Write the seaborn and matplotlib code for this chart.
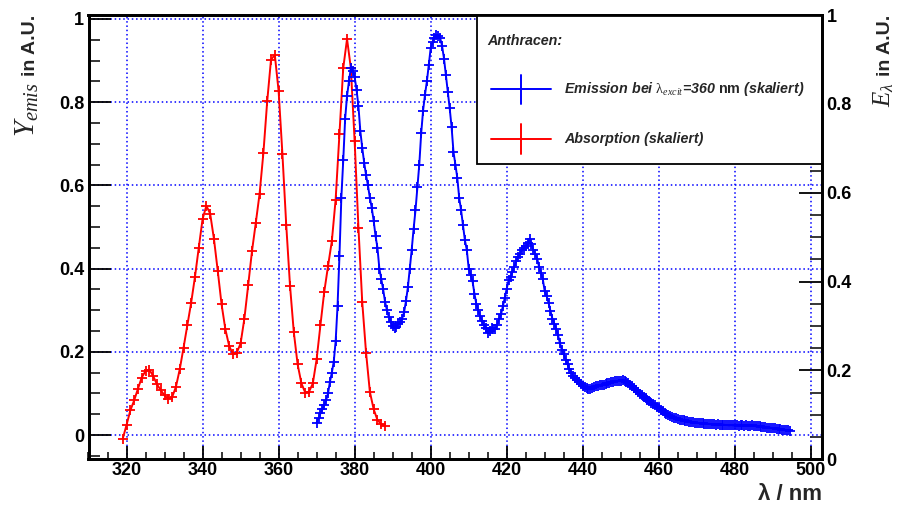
import numpy as np
import pandas as pd
import matplotlib
matplotlib.use("Agg")
import matplotlib.pyplot as plt
from matplotlib.ticker import MultipleLocator
from matplotlib.patches import Rectangle
from matplotlib.lines import Line2D
import seaborn as sns

# ---------------------------------------------------------------- data
# Absorption spectrum (scaled), 1 nm steps
abs_wavelength = np.arange(319, 389)
abs_values = [
    -0.009, 0.024, 0.059, 0.083, 0.111, 0.138, 0.154, 0.157, 0.142, 0.122,
    0.108, 0.095, 0.087, 0.091, 0.116, 0.158, 0.210, 0.264, 0.318, 0.380,
    0.450, 0.519, 0.551, 0.532, 0.471, 0.394, 0.314, 0.254, 0.214, 0.194,
    0.198, 0.220, 0.280, 0.360, 0.442, 0.510, 0.580, 0.678, 0.802, 0.902,
    0.914, 0.827, 0.676, 0.506, 0.359, 0.247, 0.170, 0.124, 0.102, 0.104,
    0.124, 0.182, 0.264, 0.344, 0.406, 0.466, 0.566, 0.723, 0.882, 0.952,
    0.882, 0.706, 0.498, 0.319, 0.198, 0.104, 0.062, 0.036, 0.026, 0.022,
]

# Emission spectrum (excitation at 360 nm, scaled), 0.5 nm steps
em_wavelength = np.arange(370.0, 495.0, 0.5)
em_values = [
    0.030, 0.040, 0.052, 0.062, 0.072, 0.084, 0.100, 0.128, 0.150, 0.176,
    0.225, 0.310, 0.430, 0.570, 0.660, 0.760, 0.815, 0.850, 0.882, 0.876,
    0.860, 0.830, 0.790, 0.730, 0.690, 0.655, 0.625, 0.600, 0.570, 0.546,
    0.515, 0.478, 0.450, 0.400, 0.375, 0.350, 0.320, 0.300, 0.284, 0.272,
    0.262, 0.258, 0.260, 0.266, 0.272, 0.280, 0.295, 0.322, 0.355, 0.400,
    0.445, 0.495, 0.540, 0.595, 0.650, 0.725, 0.780, 0.818, 0.850, 0.890,
    0.930, 0.945, 0.955, 0.962, 0.960, 0.954, 0.935, 0.905, 0.865, 0.825,
    0.785, 0.740, 0.680, 0.650, 0.618, 0.570, 0.540, 0.505, 0.468, 0.445,
    0.400, 0.385, 0.370, 0.340, 0.315, 0.300, 0.285, 0.274, 0.265, 0.258,
    0.245, 0.250, 0.258, 0.256, 0.254, 0.265, 0.280, 0.290, 0.310, 0.330,
    0.352, 0.372, 0.380, 0.392, 0.405, 0.418, 0.428, 0.436, 0.444, 0.450,
    0.455, 0.462, 0.472, 0.458, 0.444, 0.435, 0.424, 0.405, 0.390, 0.374,
    0.345, 0.334, 0.318, 0.298, 0.280, 0.268, 0.255, 0.240, 0.220, 0.205,
    0.195, 0.180, 0.170, 0.158, 0.150, 0.142, 0.136, 0.132, 0.128, 0.122,
    0.118, 0.115, 0.112, 0.110, 0.110, 0.112, 0.115, 0.117, 0.118, 0.120,
    0.120, 0.121, 0.123, 0.125, 0.126, 0.127, 0.128, 0.130, 0.130, 0.131,
    0.130, 0.132, 0.129, 0.127, 0.125, 0.121, 0.117, 0.113, 0.108, 0.104,
    0.099, 0.095, 0.091, 0.088, 0.084, 0.081, 0.077, 0.074, 0.071, 0.067,
    0.064, 0.060, 0.057, 0.054, 0.050, 0.048, 0.046, 0.043, 0.041, 0.040,
    0.039, 0.037, 0.036, 0.035, 0.034, 0.034, 0.032, 0.032, 0.031, 0.030,
    0.029, 0.029, 0.028, 0.028, 0.027, 0.027, 0.027, 0.026, 0.026, 0.026,
    0.025, 0.026, 0.025, 0.024, 0.025, 0.024, 0.024, 0.023, 0.024, 0.023,
    0.023, 0.024, 0.022, 0.023, 0.023, 0.022, 0.023, 0.022, 0.022, 0.023,
    0.022, 0.021, 0.022, 0.021, 0.020, 0.020, 0.019, 0.018, 0.018, 0.017,
    0.016, 0.016, 0.015, 0.014, 0.014, 0.013, 0.012, 0.011, 0.011, 0.010,
]

x_ticks = [320, 340, 360, 380, 400, 420, 440, 460, 480, 500]
x_tick_labels = [str(v) for v in x_ticks]
y_ticks = [0.0, 0.2, 0.4, 0.6, 0.8, 1.0]
y_tick_labels = ["0", "0.2", "0.4", "0.6", "0.8", "1"]

legend_title = "Anthracen:"
em_label = r"Emission bei $\mathrm{\lambda}_{\mathit{excit}}$=360 $\mathbf{nm}$ (skaliert)"
abs_label = "Absorption (skaliert)"

BLUE = (0.0, 0.0, 1.0)
RED = (1.0, 0.0, 0.0)

# ---------------------------------------------------------------- style
sns.set_style("white")
plt.rcParams["font.family"] = ["Liberation Sans", "DejaVu Sans"]
plt.rcParams["font.weight"] = "bold"
plt.rcParams["mathtext.fontset"] = "custom"
plt.rcParams["mathtext.rm"] = "Liberation Serif:normal"
plt.rcParams["mathtext.it"] = "Liberation Serif:italic:normal"
plt.rcParams["mathtext.bf"] = "Liberation Sans:bold"

W_PX, H_PX = 899, 507
fig = plt.figure(figsize=(W_PX / 100, H_PX / 100), dpi=100)
fig.patch.set_facecolor("white")

# frame in pixels: left 88.5, right 822.3, top 15, bottom 459.3
ax = fig.add_axes([88.5 / W_PX, 1 - 459.3 / H_PX, 733.8 / W_PX, 444.3 / H_PX])
ax.set_facecolor("white")

abs_df = pd.DataFrame({"wavelength": abs_wavelength, "value": abs_values})
em_df = pd.DataFrame({"wavelength": em_wavelength, "value": em_values})

mark_kw = dict(marker="+", markersize=7.8, markeredgewidth=1.3, linewidth=1.4,
               estimator=None, legend=False)
sns.lineplot(data=abs_df, x="wavelength", y="value", ax=ax, color=RED,
             markeredgecolor=RED, zorder=3, **mark_kw)
sns.lineplot(data=em_df, x="wavelength", y="value", ax=ax, color=BLUE,
             markeredgecolor=BLUE, zorder=4, **mark_kw)

ax.set_xlim(310, 503)
ax.set_ylim(-0.0584, 1.0096)

ax.set_xticks(x_ticks, labels=x_tick_labels)
ax.set_yticks(y_ticks, labels=y_tick_labels)
ax.xaxis.set_minor_locator(MultipleLocator(5))
ax.yaxis.set_minor_locator(MultipleLocator(0.05))

ax.grid(True, which="major", color=BLUE, linestyle=(0, (1, 1.8)), linewidth=1.1)
ax.set_axisbelow(True)

for s in ax.spines.values():
    s.set_visible(True)
    s.set_color("black")
    s.set_linewidth(2.0)

TICK_FS = 13
ax.tick_params(axis="y", which="major", direction="in", length=15.8, width=1.3,
               left=True, right=False, labelsize=TICK_FS, pad=3, colors="black")
ax.tick_params(axis="y", which="minor", direction="in", length=7.9, width=1.3,
               left=True, right=False)
ax.tick_params(axis="x", which="major", direction="in", length=9.4, width=1.3,
               bottom=True, top=False, labelsize=TICK_FS, pad=2, colors="black")
ax.tick_params(axis="x", which="minor", direction="in", length=4.8, width=1.3,
               bottom=True, top=False)

ax.set_xlabel("λ / nm", fontsize=16, fontweight="bold", loc="right")
ax.xaxis.set_label_coords(1.0, (459.3 - 500.5) / 444.3)
ax.xaxis.label.set_verticalalignment("baseline")

ax.set_ylabel("in A.U.", fontsize=14, fontweight="bold", loc="top")
ax.yaxis.set_label_coords((35 - 88.5) / 733.8, 1.0)
ax.yaxis.label.set_verticalalignment("baseline")

# secondary scale on the right
ax2 = ax.twinx()
ax2.set_ylim(0, 1)
ax2.set_yticks(y_ticks, labels=y_tick_labels)
ax2.yaxis.set_minor_locator(MultipleLocator(0.05))
ax2.tick_params(axis="y", which="major", direction="in", length=16.5, width=1.3,
                right=True, left=False, labelsize=TICK_FS, pad=3, colors="black")
ax2.tick_params(axis="y", which="minor", direction="in", length=9.0, width=1.3,
                right=True, left=False)
for s in ax2.spines.values():
    s.set_color("black")
    s.set_linewidth(2.0)
ax2.grid(False)
ax2.set_ylabel("in A.U.", fontsize=14, fontweight="bold", loc="top")
ax2.yaxis.set_label_coords((890 - 88.5) / 733.8, 1.0)
ax2.yaxis.label.set_verticalalignment("baseline")

# ---------------------------------------------------------------- legend box
def px_to_ax(px, py):
    return (px - 88.5) / 733.8, (459.3 - py) / 444.3

bx0, by0 = px_to_ax(477.3, 163.5)
box = Rectangle((bx0, by0), 1 - bx0, 1 - by0, transform=ax2.transAxes,
                facecolor="white", edgecolor="black", linewidth=1.3,
                zorder=2, clip_on=False)
ax2.add_patch(box)

tx, ty = px_to_ax(487, 41)
ax2.text(tx, ty, legend_title, transform=ax2.transAxes, fontsize=10.3,
         fontweight="bold", fontstyle="italic", ha="left", va="center", zorder=3)

entries = [(89.3, BLUE, em_label), (139.0, RED, abs_label)]
hx0, _ = px_to_ax(490.7, 0)
hx1, _ = px_to_ax(550.7, 0)
hxm, _ = px_to_ax(520.7, 0)
txt_x, _ = px_to_ax(564.3, 0)
half_h = 14.6 / 444.3
for py, col, lab in entries:
    _, ey = px_to_ax(0, py)
    ax2.add_line(Line2D([hx0, hx1], [ey, ey], color=col, linewidth=1.4,
                        transform=ax2.transAxes, zorder=3, clip_on=False))
    ax2.add_line(Line2D([hxm, hxm], [ey - half_h, ey + half_h], color=col,
                        linewidth=1.4, transform=ax2.transAxes, zorder=3,
                        clip_on=False))
    ax2.text(txt_x, ey, lab, transform=ax2.transAxes, fontsize=10.3,
             fontweight="bold", fontstyle="italic", ha="left", va="center",
             zorder=3)

# ---------------------------------------------------------------- axis symbols
fig.canvas.draw()
renderer = fig.canvas.get_renderer()
bb_l = ax.yaxis.label.get_window_extent(renderer)
fig.text(35 / W_PX, (bb_l.y0 - 6) / H_PX, r"$Y_{emis}$", fontsize=21,
         rotation=90, rotation_mode="anchor", ha="right", va="baseline")
bb_r = ax2.yaxis.label.get_window_extent(renderer)
fig.text(890 / W_PX, (bb_r.y0 - 6) / H_PX, r"$E_{\lambda}$", fontsize=18,
         rotation=90, rotation_mode="anchor", ha="right", va="baseline")

fig.savefig("out.png", dpi=100, facecolor="white")
